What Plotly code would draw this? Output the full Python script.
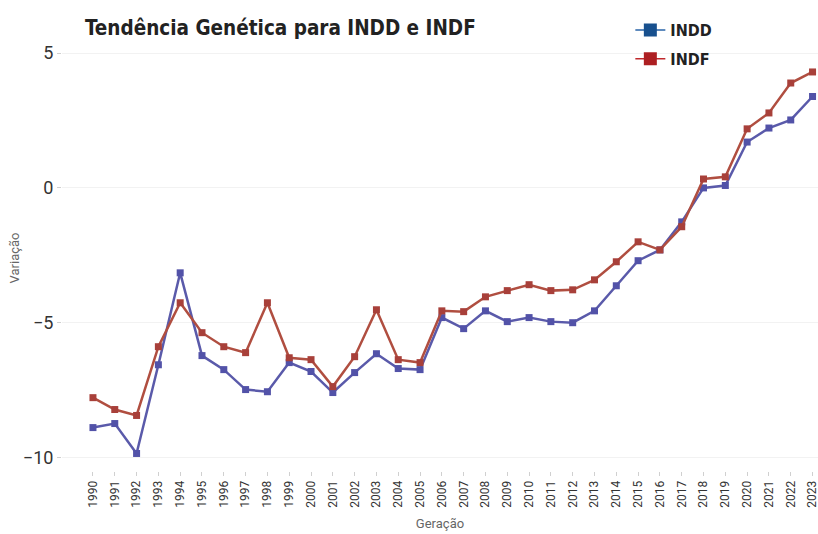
import plotly.graph_objects as go

years = list(range(1990, 2024))
indd = [-8.89, -8.74, -9.85, -6.56, -3.15, -6.22, -6.74, -7.48, -7.56, -6.48,
        -6.81, -7.59, -6.85, -6.15, -6.70, -6.74, -4.81, -5.22, -4.56, -4.96,
        -4.81, -4.96, -5.00, -4.56, -3.63, -2.70, -2.30, -1.26, 0.00, 0.09,
        1.70, 2.22, 2.52, 3.39]
indf = [-7.78, -8.22, -8.44, -5.89, -4.26, -5.37, -5.89, -6.11, -4.26, -6.30,
        -6.37, -7.37, -6.26, -4.52, -6.37, -6.48, -4.56, -4.59, -4.04, -3.81,
        -3.59, -3.81, -3.78, -3.41, -2.74, -2.00, -2.30, -1.44, 0.33, 0.41,
        2.19, 2.78, 3.89, 4.30]
series_names = ["INDD", "INDF"]
y_ticks = [5, 0, -5, -10]

fig = go.Figure()
fig.add_trace(go.Scatter(x=years, y=indd, mode="lines+markers", name=series_names[0],
                         line=dict(color="#5a5aaa", width=2.5),
                         marker=dict(symbol="square", size=7, color="#5252a8"),
                         showlegend=False))
fig.add_trace(go.Scatter(x=years, y=indf, mode="lines+markers", name=series_names[1],
                         line=dict(color="#b04e40", width=2.5),
                         marker=dict(symbol="square", size=7, color="#a8403a"),
                         showlegend=False))
# legend entries
fig.add_trace(go.Scatter(x=[None], y=[None], mode="lines+markers",
                         name="<b>" + series_names[0] + "</b>",
                         legendgroup="a",
                         line=dict(color="#2a64a8", width=1.5),
                         marker=dict(symbol="square", size=13, color="#18508e")))
fig.add_trace(go.Scatter(x=[None], y=[None], mode="lines+markers",
                         name="<b>" + series_names[1] + "</b>",
                         legendgroup="b",
                         line=dict(color="#c0282c", width=1.5),
                         marker=dict(symbol="square", size=13, color="#ad1f22")))

fig.update_layout(
    width=818, height=534,
    paper_bgcolor="white", plot_bgcolor="white",
    margin=dict(l=62, r=0, t=45, b=63),
    title=dict(text="<b>Tendência Genética para INDD e INDF</b>",
               x=85/818, xanchor="left", xref="container",
               y=1-28/534, yanchor="middle", yref="container",
               font=dict(family="DejaVu Sans Condensed", size=20.5, color="#222")),
    legend=dict(x=0.765 - 10/756, y=1.0 + 32/426, xanchor="left", yanchor="top",
                font=dict(family="DejaVu Sans Condensed", size=16, color="#222"),
                traceorder="grouped", tracegroupgap=5, bgcolor="rgba(0,0,0,0)"),
    font=dict(family="Roboto", color="#333"),
)
fig.update_xaxes(range=[1988.58, 2023.25], tickmode="array", tickvals=years,
                 ticktext=[str(y) for y in years], tickangle=-90,
                 tickfont=dict(size=12, color="#333"), ticklabeloverflow="allow",
                 ticks="outside", ticklen=4, tickcolor="#d0d0d0",
                 showgrid=False, zeroline=False, showline=False,
                 title=dict(text="Geração", font=dict(size=13, color="#666"), standoff=12))
fig.update_yaxes(range=[-10.5, 5.3], tickmode="array", tickvals=y_ticks,
                 tickfont=dict(size=18, color="#333"),
                 ticks="outside", ticklen=4, tickcolor="#d0d0d0",
                 showgrid=True, gridcolor="#f2f2f2", zeroline=False, showline=False,
                 title=dict(text="Variação", font=dict(size=13, color="#666"), standoff=0))

fig.write_html("out.html", config={"displayModeBar": False},
               post_script="document.body.style.margin='0';document.body.style.padding='0';")
